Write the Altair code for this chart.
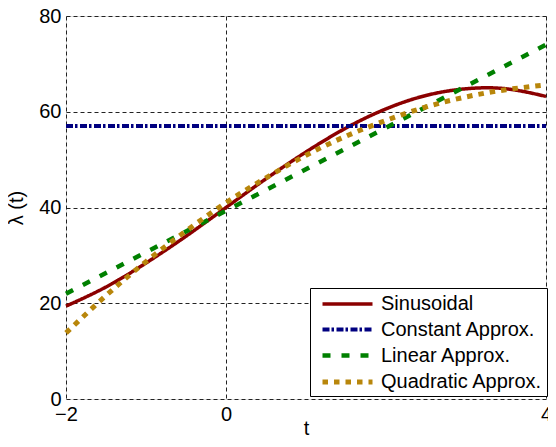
import altair as alt
import pandas as pd

# values
t_curve = [-2, -1.5, -1, -0.5, 0, 0.5, 1, 1.5, 2, 2.5, 3, 3.5, 4]
sinusoidal = [19.4, 23.4, 28.4, 34.0, 40.0, 46.0, 51.6, 56.6, 60.6, 63.4, 64.8, 64.8, 63.2]
quadratic = [13.8, 21.6, 28.7, 35.1, 41.0, 46.2, 50.9, 54.9, 58.2, 61.0, 63.1, 64.6, 65.6]
t_line = [-2, 4]
constant = [57.0, 57.0]
linear = [22.0, 74.0]

series_names = ["Sinusoidal", "Constant Approx.", "Linear Approx.", "Quadratic Approx."]
series_colors = ["#8B0000", "#000080", "#008000", "#B8860B"]
series_dash = [[1, 0], [7, 2, 2.5, 2.5], [8, 11], [5.5, 6]]
series_width = [3.5, 5, 7, 6]

x_ticks = [-2, 0, 4]
y_ticks = [0, 20, 40, 60, 80]

rows = []
for t, v in zip(t_curve, sinusoidal):
    rows.append({"t": t, "v": v, "s": series_names[0], "k": 0})
for t, v in zip(t_line, constant):
    rows.append({"t": t, "v": v, "s": series_names[1], "k": 1})
for t, v in zip(t_line, linear):
    rows.append({"t": t, "v": v, "s": series_names[2], "k": 2})
for t, v in zip(t_curve, quadratic):
    rows.append({"t": t, "v": v, "s": series_names[3], "k": 3})
df = pd.DataFrame(rows)

FONT = "Liberation Sans"

leg = alt.Legend(
    orient="none", legendX=244, legendY=272, title=None,
    symbolType="M-2.5,0H2.5", symbolSize=400, symbolOffset=21,
    symbolFillColor="transparent",
    labelFontSize=20, labelFont=FONT, labelColor="black", labelLimit=400,
    strokeColor="black", fillColor="white", padding=4,
    labelOffset=21, rowPadding=3.5,
)

chart = alt.Chart(df).mark_line(interpolate="natural", strokeCap="butt").encode(
    x=alt.X("t:Q", scale=alt.Scale(domain=[-2, 4], nice=False, zero=False),
            axis=alt.Axis(values=x_ticks, title="t", titleFont=FONT, titleFontSize=20,
                          titleFontWeight="normal", titleColor="black",
                          titleY=35, titleBaseline="alphabetic",
                          labelFont=FONT, labelFontSize=20, labelColor="black",
                          labelPadding=5, ticks=False, domain=False,
                          grid=True, gridDash=[4, 3], gridColor="#222222", gridOpacity=1,
                          labelFlush=False, labelOverlap=False, format="d")),
    y=alt.Y("v:Q", scale=alt.Scale(domain=[0, 80], nice=False),
            axis=alt.Axis(values=y_ticks, title="λ (t)", titleFont=FONT, titleFontSize=20,
                          titleFontWeight="normal", titleColor="black",
                          titleX=-50, titleY=191.5, titleBaseline="middle", titleAngle=270,
                          labelFont=FONT, labelFontSize=20, labelColor="black",
                          labelPadding=5, ticks=False, domain=False,
                          grid=True, gridDash=[4, 3], gridColor="#222222", gridOpacity=1,
                          labelFlush=False, labelOverlap=False)),
    color=alt.Color("s:N", scale=alt.Scale(domain=series_names, range=series_colors), legend=leg),
    strokeDash=alt.StrokeDash("s:N", scale=alt.Scale(domain=series_names, range=series_dash), legend=leg),
    strokeWidth=alt.StrokeWidth("s:N", scale=alt.Scale(domain=series_names, range=series_width), legend=leg),
    order=alt.Order("k:Q"),
).properties(
    width=480, height=383,
    autosize=alt.AutoSizeParams(type="none"),
    padding={"left": 58, "top": 8, "right": 2, "bottom": 36},
).configure_view(stroke="black", strokeWidth=1).configure(background="white")

chart.save("out.html", embed_options={"renderer": "svg", "actions": False})
